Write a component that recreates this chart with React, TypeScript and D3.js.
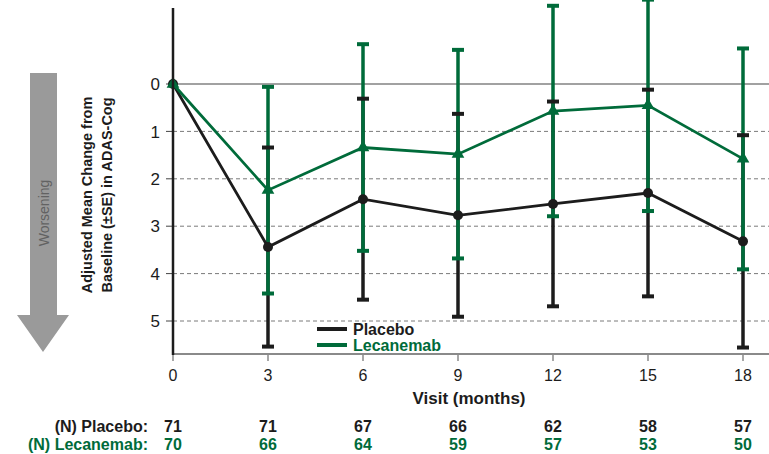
import React from "react";
import * as d3 from "d3";

const months = [0, 3, 6, 9, 12, 15, 18];
const placeboMean = [0, 3.44, 2.43, 2.77, 2.53, 2.3, 3.32];
const placeboSE = [0, 2.1, 2.12, 2.14, 2.16, 2.18, 2.24];
const lecMean = [0, 2.24, 1.34, 1.48, 0.57, 0.45, 1.58];
const lecSE = [0, 2.18, 2.18, 2.2, 2.22, 2.23, 2.33];
const yTicks = [0, 1, 2, 3, 4, 5];
const nPlacebo = [71, 71, 67, 66, 62, 58, 57];
const nLec = [70, 66, 64, 59, 57, 53, 50];

const BLACK = "#1c1c1c";
const GREEN = "#006b3a";
const FONT = "Arial, 'Liberation Sans', sans-serif";

export default function App() {
  const W = 769, H = 454;
  const x = d3.scaleLinear().domain([0, 18]).range([173, 743]);
  const y = d3.scaleLinear().domain([0, 5]).range([84, 321]);
  const plotTop = 8, plotBottom = 354, plotRight = 769;

  const pts = (m: number[]) => months.map((mo, i) => [x(mo), y(m[i])] as [number, number]);
  const line = d3.line();
  const tri = d3.symbol().type(d3.symbolTriangle).size(70)() as string;

  const bars = (mean: number[], se: number[]) =>
    months.map((mo, i) => ({ x: x(mo), y1: y(mean[i] - se[i]), y2: y(mean[i] + se[i]), show: se[i] > 0 }));
  const pb = bars(placeboMean, placeboSE);
  const lb = bars(lecMean, lecSE);
  const capW = 12;

  return (
    <svg width={W} height={H} style={{ position: "absolute", left: 0, top: 0, display: "block", background: "#fff" }} fontFamily={FONT}>
      <defs>
        <clipPath id="plot">
          <rect x={0} y={0} width={W} height={plotBottom} />
        </clipPath>
      </defs>
      {/* Worsening arrow */}
      <path d="M30,73 L57,73 L57,315 L69,315 L43,352 L17,315 L30,315 Z" fill="#9a9a9a" />
      <text transform="translate(49,213) rotate(-90)" textAnchor="middle" fontSize={14} fill="#626262">Worsening</text>
      {/* Y axis title */}
      <text transform="translate(92,195) rotate(-90)" textAnchor="middle" fontSize={14.5} fontWeight="bold" fill={BLACK}>Adjusted Mean Change from</text>
      <text transform="translate(112,195) rotate(-90)" textAnchor="middle" fontSize={14.5} fontWeight="bold" fill={BLACK}>Baseline (±SE) in ADAS-Cog</text>

      {/* gridlines */}
      {yTicks.map((t) =>
        t === 0 ? (
          <line key={t} x1={173} x2={plotRight} y1={y(t)} y2={y(t)} stroke="#444" strokeWidth={1.2} />
        ) : (
          <line key={t} x1={173} x2={plotRight} y1={y(t)} y2={y(t)} stroke="#7a7a7a" strokeWidth={1} strokeDasharray="4,3" />
        )
      )}
      {/* y ticks */}
      {yTicks.map((t) => (
        <g key={t}>
          <line x1={166} x2={173} y1={y(t)} y2={y(t)} stroke="#444" strokeWidth={1} />
          <text x={160} y={y(t)} dy="0.36em" textAnchor="end" fontSize={17} fill={BLACK}>{t}</text>
        </g>
      ))}
      {/* x axis */}
      <line x1={172} x2={plotRight} y1={plotBottom} y2={plotBottom} stroke="#8a8a8a" strokeWidth={2} />
      {months.map((m) => (
        <g key={m}>
          <line x1={x(m)} x2={x(m)} y1={plotBottom} y2={plotBottom + 7} stroke="#8a8a8a" strokeWidth={1.5} />
          <text x={x(m)} y={381} textAnchor="middle" fontSize={16} fill={BLACK}>{m}</text>
        </g>
      ))}
      <text x={469} y={404} textAnchor="middle" fontSize={17} fontWeight="bold" fill={BLACK}>Visit (months)</text>

      <g clipPath="url(#plot)">
        {/* error bar verticals */}
        {pb.filter((b) => b.show).map((b, i) => (
          <line key={"pv" + i} x1={b.x} x2={b.x} y1={b.y1} y2={b.y2} stroke={BLACK} strokeWidth={3.5} />
        ))}
        {lb.filter((b) => b.show).map((b, i) => (
          <line key={"lv" + i} x1={b.x} x2={b.x} y1={b.y1} y2={b.y2} stroke={GREEN} strokeWidth={3.5} />
        ))}
        {/* caps */}
        {lb.filter((b) => b.show).map((b, i) => (
          <g key={"lc" + i}>
            <line x1={b.x - capW / 2} x2={b.x + capW / 2} y1={b.y1} y2={b.y1} stroke={GREEN} strokeWidth={4} />
            <line x1={b.x - capW / 2} x2={b.x + capW / 2} y1={b.y2} y2={b.y2} stroke={GREEN} strokeWidth={4} />
          </g>
        ))}
        {pb.filter((b) => b.show).map((b, i) => (
          <g key={"pc" + i}>
            <line x1={b.x - capW / 2} x2={b.x + capW / 2} y1={b.y1} y2={b.y1} stroke={BLACK} strokeWidth={4} />
            <line x1={b.x - capW / 2} x2={b.x + capW / 2} y1={b.y2} y2={b.y2} stroke={BLACK} strokeWidth={4} />
          </g>
        ))}
        {/* mean lines */}
        <path d={line(pts(placeboMean)) as string} fill="none" stroke={BLACK} strokeWidth={2.8} />
        {pts(placeboMean).map(([px, py], i) => (
          <circle key={"pm" + i} cx={px} cy={py} r={5} fill={BLACK} />
        ))}
        <path d={line(pts(lecMean)) as string} fill="none" stroke={GREEN} strokeWidth={2.8} />
        {pts(lecMean).map(([px, py], i) => (
          <path key={"lm" + i} d={tri} transform={`translate(${px},${py})`} fill={GREEN} />
        ))}
      </g>
      {/* y axis line */}
      <line x1={173} x2={173} y1={plotTop} y2={plotBottom + 1} stroke={BLACK} strokeWidth={2.5} />

      {/* legend */}
      <line x1={317} x2={347} y1={329} y2={329} stroke={BLACK} strokeWidth={4} />
      <text x={353} y={335} fontSize={16} fontWeight="bold" fill={BLACK}>Placebo</text>
      <line x1={317} x2={347} y1={345} y2={345} stroke={GREEN} strokeWidth={4} />
      <text x={353} y={351} fontSize={16} fontWeight="bold" fill={GREEN}>Lecanemab</text>

      {/* N table */}
      <text x={148} y={432} textAnchor="end" fontSize={16} fontWeight="bold" fill={BLACK}>(N) Placebo:</text>
      <text x={148} y={450} textAnchor="end" fontSize={16} fontWeight="bold" fill={GREEN}>(N) Lecanemab:</text>
      {months.map((m, i) => (
        <g key={"n" + m}>
          <text x={x(m)} y={432} textAnchor="middle" fontSize={16} fontWeight="bold" fill={BLACK}>{nPlacebo[i]}</text>
          <text x={x(m)} y={450} textAnchor="middle" fontSize={16} fontWeight="bold" fill={GREEN}>{nLec[i]}</text>
        </g>
      ))}
    </svg>
  );
}
